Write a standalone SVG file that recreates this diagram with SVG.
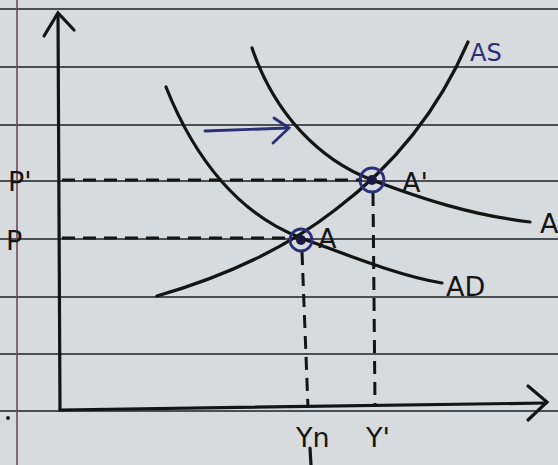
<svg xmlns="http://www.w3.org/2000/svg" width="558" height="465" viewBox="0 0 558 465">
<style>
.rule{stroke:#4a4f54;stroke-width:2}
.ink{fill:none;stroke:#141414;stroke-width:3.2;stroke-linecap:round}
.dash{fill:none;stroke:#141414;stroke-width:3;stroke-dasharray:13 8}
.blue{fill:none;stroke:#2a2f78;stroke-width:2.8;stroke-linecap:round}
.lbl{font-family:"DejaVu Sans",sans-serif;font-size:27px;fill:#141414}
.lblb{font-family:"DejaVu Sans",sans-serif;font-size:24px;fill:#2a2f78}
</style>
<rect width="558" height="465" fill="#d8dbdd"/>
<g id="paper">
<line class="rule" x1="0" y1="9" x2="558" y2="9"/>
<line class="rule" x1="0" y1="67" x2="558" y2="67"/>
<line class="rule" x1="0" y1="125" x2="558" y2="125"/>
<line class="rule" x1="0" y1="181" x2="558" y2="181"/>
<line class="rule" x1="0" y1="239" x2="558" y2="239"/>
<line class="rule" x1="0" y1="297" x2="558" y2="297"/>
<line class="rule" x1="0" y1="354" x2="558" y2="354"/>
<line class="rule" x1="0" y1="411" x2="558" y2="411"/>
<line x1="17" y1="0" x2="17" y2="465" stroke="#6b4a55" stroke-width="1.6"/>
<circle cx="8" cy="418" r="2" fill="#222"/>
</g>
<g id="axes">
<path class="ink" d="M58,14 L60,410"/>
<path class="ink" d="M44,36 L58,13 L74,30"/>
<path class="ink" d="M60,410 L546,403"/>
<path class="ink" d="M528,386 L547,402 L528,420"/>
</g>
<g id="connectors">
<path class="dash" d="M62,180 L362,180"/>
<path class="dash" d="M62,238 L290,238"/>
<path class="dash" d="M302,252 L308,408"/>
<path class="dash" d="M373,193 L375,405"/>
<path class="ink" d="M310,448 L311,465"/>
</g>
<g id="curve-AS">
<path class="ink" d="M157,296 C230,275 290,245 335,210 C375,180 430,130 468,42"/>
</g>
<g id="curve-AD">
<path class="ink" d="M166,87 C195,160 240,215 301,238 C350,256 400,276 442,283"/>
</g>
<g id="curve-AD2">
<path class="ink" d="M252,48 C275,115 320,160 372,180 C420,198 470,215 530,222"/>
</g>
<g id="point-A">
<circle class="blue" cx="301" cy="240" r="11"/>
<circle cx="301" cy="240" r="5" fill="#1a1a40"/>
</g>
<g id="point-A2">
<circle class="blue" cx="372" cy="180" r="12"/>
<circle cx="372" cy="180" r="5" fill="#1a1a40"/>
</g>
<g id="shift-arrow">
<path class="blue" d="M205,131 L288,128"/>
<path class="blue" d="M274,118 L289,128 L273,143"/>
</g>
<g id="labels">
<text class="lbl" x="8" y="191">P'</text>
<text class="lbl" x="6" y="250">P</text>
<text class="lbl" x="318" y="248">A</text>
<text class="lbl" x="402" y="192">A'</text>
<text class="lblb" x="470" y="61">AS</text>
<text class="lbl" x="446" y="296">AD</text>
<text class="lbl" x="540" y="233">A</text>
<text class="lbl" x="296" y="447">Yn</text>
<text class="lbl" x="366" y="447">Y'</text>
</g>
</svg>
